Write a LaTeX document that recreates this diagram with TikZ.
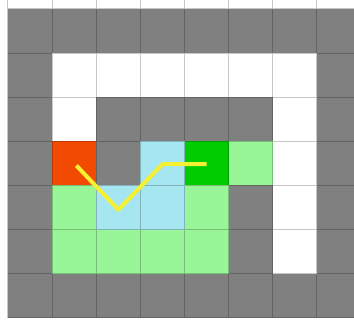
\documentclass[tikz,border=0pt]{standalone}
\definecolor{wallgray}{HTML}{808080}
\definecolor{startred}{HTML}{F24A00}
\definecolor{goalgreen}{HTML}{00CC00}
\definecolor{opengreen}{HTML}{98F598}
\definecolor{closedblue}{HTML}{A6E6F0}
\definecolor{pathyellow}{HTML}{F5F032}
\begin{document}
\begin{tikzpicture}[
  % Cell styles
  cell/.style={draw=none},
  wall/.style={cell, fill=wallgray},
  free/.style={cell, fill=white},
  start/.style={cell, fill=startred},
  goal/.style={cell, fill=goalgreen},
  openset/.style={cell, fill=opengreen},
  closedset/.style={cell, fill=closedblue},
  % Grid and path styles
  gridline/.style={draw=black, draw opacity=0.22, line width=0.6pt},
  route/.style={draw=pathyellow, line width=2.6pt, line join=round},
]

% Frame (reference margins)
\clip (-0.18,0.2) rectangle (7.84,-7.07);
\fill[white] (-0.18,0.2) rectangle (7.84,-7.07);

% --- Outer walls ---
\foreach \c in {0,...,7} {
  \fill[wall] (\c,0) rectangle ++(1,-1);
  \fill[wall] (\c,-6) rectangle ++(1,-1);
}
\foreach \r in {1,...,5} {
  \fill[wall] (0,-\r) rectangle ++(1,-1);
  \fill[wall] (7,-\r) rectangle ++(1,-1);
}

% --- Inner walls ---
\foreach \c/\r in {2/2, 3/2, 4/2, 5/2, 2/3, 5/4, 5/5}
  \fill[wall] (\c,-\r) rectangle ++(1,-1);

% --- Free cells ---
\foreach \c/\r in {1/1, 2/1, 3/1, 4/1, 5/1, 6/1, 1/2, 6/2, 6/3, 6/4, 6/5}
  \fill[free] (\c,-\r) rectangle ++(1,-1);

% --- Open and closed sets ---
\foreach \c/\r in {5/3, 1/4, 4/4, 1/5, 2/5, 3/5, 4/5}
  \fill[openset] (\c,-\r) rectangle ++(1,-1);
\foreach \c/\r in {3/3, 2/4, 3/4}
  \fill[closedset] (\c,-\r) rectangle ++(1,-1);

% --- Start and goal ---
\fill[start] (1,-3) rectangle ++(1,-1);
\fill[goal] (4,-3) rectangle ++(1,-1);

% Grid over all cells
\draw[gridline] (0,1) grid (9,-7);

% --- Found path ---
\coordinate (p0) at (1.55,-3.55);
\coordinate (p1) at (2.5,-4.55);
\coordinate (p2) at (3.5,-3.52);
\coordinate (p3) at (4.5,-3.52);
\draw[route] (p0) -- (p1) -- (p2) -- (p3);

\end{tikzpicture}
\end{document}
